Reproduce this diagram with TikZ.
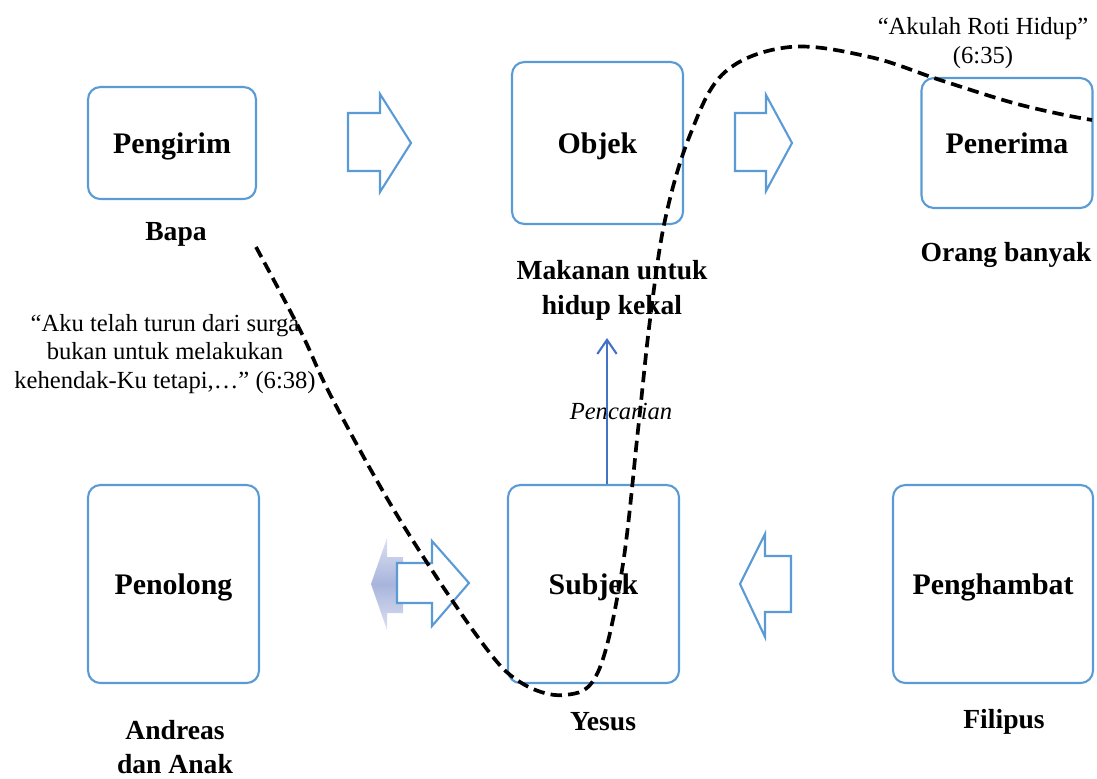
\documentclass[tikz,border=0pt]{standalone}
\usepackage{fontspec}
\setmainfont{Liberation Serif}
\usetikzlibrary{positioning,arrows.meta}
\definecolor{boxblue}{RGB}{91,155,213}
\definecolor{linkblue}{RGB}{68,114,196}
\definecolor{shadeblue}{RGB}{168,180,220}
\tikzset{
  box/.style={draw=boxblue,line width=1.2pt,rounded corners=7pt,inner sep=0pt,text depth=0pt,
    font=\fontsize{17}{20}\selectfont\bfseries},
  role/.style={font=\fontsize{15.7}{20}\selectfont\bfseries,align=center,inner sep=0pt},
  quote/.style={font=\fontsize{14}{16.4}\selectfont,align=center,inner sep=0pt},
  blockarrow/.style={draw=boxblue,line width=1.2pt,fill=white},
}
\begin{document}
\begin{tikzpicture}[x=0.02cm,y=-0.02cm]
\useasboundingbox (0,0) rectangle (1097,778);
\node[box,minimum width=3.36cm,minimum height=2.24cm] (pengirim) at (172,143) {Pengirim};
\node[box,minimum width=3.42cm,minimum height=3.24cm] (objek) at (597.5,143) {Objek};
\node[box,minimum width=3.42cm,minimum height=2.60cm] (penerima) at (1007,143) {Penerima};
\node[box,minimum width=3.42cm,minimum height=3.96cm] (penolong) at (173.5,584) {Penolong};
\node[box,minimum width=3.42cm,minimum height=3.96cm] (subjek) at (593.5,584) {Subjek};
\node[box,minimum width=4.00cm,minimum height=3.96cm] (penghambat) at (993,584) {Penghambat};

\node[role] (bapa) at (176,234) {Bapa};
\node[role] (makanan) at (612,290) {Makanan untuk\\hidup kekal};
\node[role] (orang) at (1006,255) {Orang banyak};
\node[role,font=\fontsize{15.7}{19.2}\selectfont\bfseries] (andreas) at (175,747) {Andreas\\dan Anak};
\node[role] (yesus) at (603,722) {Yesus};
\node[role] (filipus) at (1004,722) {Filipus};

\node[quote] (roti) at (983,43) {“Akulah Roti Hidup”\\(6:35)};
\node[quote] (surga) at (165,354) {“Aku telah turun dari surga\\bukan untuk melakukan\\kehendak-Ku tetapi,…” (6:38)};
\node[quote,font=\fontsize{14}{16.4}\selectfont\itshape] (pencarian) at (621,411) {Pencarian};

% block arrows
\draw[blockarrow] (348,113) -- (380,113) -- (380,94) -- (411,143) -- (380,192) -- (380,171) -- (348,171) -- cycle;
\draw[blockarrow] (735,113) -- (766,113) -- (766,95) -- (792,143) -- (766,191) -- (766,171) -- (735,171) -- cycle;
\shade[top color=shadeblue!40,bottom color=shadeblue!40,middle color=shadeblue]
  (403,557) -- (387,557) -- (387,538) -- (371,584) -- (387,630) -- (387,613) -- (403,613) -- cycle;
\draw[blockarrow] (397,563) -- (432,563) -- (432,541) -- (469,583) -- (432,626) -- (432,603) -- (397,603) -- cycle;
\draw[blockarrow] (791,556) -- (765,556) -- (765,534) -- (740,584) -- (765,637) -- (765,612) -- (791,612) -- cycle;

% search arrow
\coordinate (goal) at (607,338);
\draw[linkblue,line width=1.2pt,-{Straight Barb[length=8pt,width=11pt]}] (subjek.north -| goal) -- (goal);

% dashed path
\draw[line width=2.1pt,dash pattern=on 6.5pt off 3.5pt] plot[smooth,tension=0.6] coordinates {
  (256,247) (300,330) (333,400) (400,520) (480,640) (520,682) (565,695) (598,672)
  (622,570) (638,430) (650,320) (665,220) (690,135) (725,72) (790,47) (870,57)
  (940,80) (1010,102) (1060,114) (1092,120)};
\end{tikzpicture}
\end{document}
